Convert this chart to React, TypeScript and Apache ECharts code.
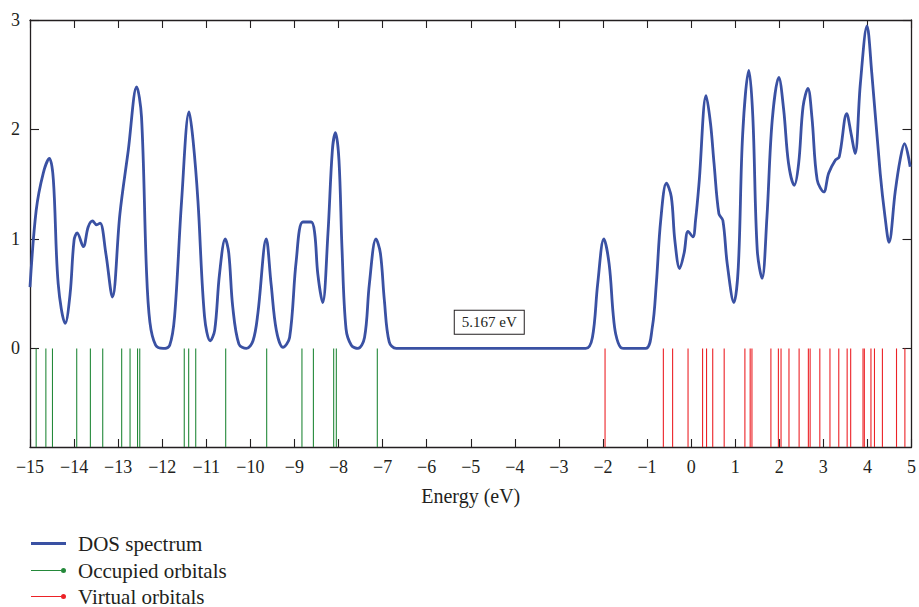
import React, { useEffect, useRef } from "react";
import * as echarts from "echarts";

const dosEnergy = [
  -15.0, -14.86, -14.7, -14.56, -14.47, -14.36, -14.2, -14.09, -14.0, -13.93, -13.79, -13.68, -13.58, -13.49, -13.41,
  -13.28, -13.13, -12.96, -12.77, -12.58, -12.47, -12.36, -12.28, -12.15, -11.98, -11.83, -11.72, -11.56, -11.39,
  -11.3, -11.19, -11.04, -10.91, -10.81, -10.7, -10.57, -10.49, -10.4, -10.26, -10.09, -9.94, -9.83, -9.64, -9.53,
  -9.41, -9.26, -9.11, -8.96, -8.81, -8.62, -8.54, -8.47, -8.36, -8.24, -8.14, -8.07, -7.99, -7.92, -7.83, -7.71,
  -7.56, -7.41, -7.3, -7.15, -7.05, -6.96, -6.85, -6.69, -2.39, -2.24, -2.12, -1.98, -1.86, -1.77, -1.71, -1.6,
  -1.48, -1.03, -0.88, -0.79, -0.69, -0.56, -0.45, -0.37, -0.26, -0.16, -0.07, 0.04, 0.1, 0.18, 0.34, 0.44, 0.52,
  0.63, 0.72, 0.82, 0.97, 1.07, 1.17, 1.31, 1.4, 1.5, 1.61, 1.72, 1.84, 1.99, 2.1, 2.21, 2.34, 2.44, 2.54, 2.65,
  2.74, 2.86, 3.01, 3.12, 3.27, 3.36, 3.53, 3.63, 3.72, 3.84, 3.99, 4.1, 4.29, 4.4, 4.49, 4.63, 4.74, 4.84, 4.97,
];
const dosValue = [
  0.56, 1.26, 1.6, 1.735, 1.54, 0.59, 0.23, 0.5, 0.99, 1.055, 0.93, 1.11, 1.165, 1.13, 1.145,
  0.87, 0.47, 1.23, 1.81, 2.39, 2.115, 0.74, 0.24, 0.03, 0.0, 0.03, 0.29, 1.35, 2.16,
  1.9, 1.35, 0.29, 0.07, 0.165, 0.68, 1.0, 0.87, 0.38, 0.04, 0.0, 0.07, 0.32, 1.0, 0.59,
  0.165, 0.01, 0.1, 0.8, 1.155, 1.155, 1.05, 0.68, 0.42, 1.05, 1.81, 1.97, 1.72, 0.9, 0.18, 0.03,
  0.0, 0.1, 0.59, 1.0, 0.87, 0.44, 0.06, 0.0, 0.0, 0.1, 0.59, 1.0, 0.77, 0.32, 0.13, 0.01,
  0.0, 0.0, 0.195, 0.59, 1.17, 1.51, 1.385, 0.99, 0.73, 0.87, 1.07, 1.02, 1.17, 1.51, 2.31, 2.055, 1.69,
  1.23, 1.17, 0.77, 0.42, 0.74, 1.96, 2.54, 2.115, 0.9, 0.64, 1.2, 2.085, 2.475, 2.18, 1.69, 1.49, 1.69, 2.21, 2.375,
  2.115, 1.54, 1.43, 1.6, 1.72, 1.75, 2.145, 1.96, 1.78, 2.42, 2.945, 2.51, 1.6, 1.2, 0.97, 1.43, 1.72, 1.87, 1.66,
];

const occupiedOrbitals = [
  -14.86, -14.64, -14.49, -13.94, -13.63, -13.35, -12.92, -12.73, -12.56, -12.51, -11.5, -11.4, -11.24, -10.56,
  -9.63, -8.83, -8.57, -8.11, -8.05, -7.12,
];
const virtualOrbitals = [
  -1.953, -0.63, -0.42, -0.07, 0.26, 0.35, 0.49, 0.75, 1.22, 1.34, 1.38, 1.81, 1.98, 2.04, 2.22, 2.45, 2.66, 2.7,
  2.92, 3.15, 3.35, 3.54, 3.62, 3.9, 3.93, 4.08, 4.16, 4.34, 4.66, 4.85,
];

const seriesNames = ["DOS spectrum", "Occupied orbitals", "Virtual orbitals"];
const yTicks = [0, 1, 2, 3];
const gapLabel = "5.167 eV";
const gapLabelAt = [-4.58, 0.24];

const X_MIN = -15;
const X_MAX = 5;
const Y_MIN = -0.9;
const Y_MAX = 3;

const AXIS = "#231f20";
const BLUE = "#3a51a3";
const GREEN = "#24893a";
const RED = "#ec2227";
const FONT = "'Liberation Serif', 'Times New Roman', serif";

const minus = (v: number) => String(v).replace("-", "\u2212");

export default function App() {
  const ref = useRef<HTMLDivElement>(null);
  useEffect(() => {
    if (!ref.current) return;
    const chart = echarts.init(ref.current, undefined, { renderer: "svg" });

    const stickSeries = (name: string, values: number[], color: string) => ({
      name,
      type: "custom",
      xAxisIndex: 0,
      yAxisIndex: 0,
      color,
      itemStyle: { color },
      data: values.map((v) => [v]),
      encode: { x: 0 },
      renderItem: (_p: any, api: any) => {
        const x = api.value(0);
        const a = api.coord([x, 0]);
        const b = api.coord([x, Y_MIN]);
        return {
          type: "line",
          shape: { x1: a[0], y1: a[1], x2: b[0], y2: b[1] },
          style: { stroke: color, lineWidth: 1.1 },
        };
      },
      z: 3,
    });

    const lineLegendIcon = "path://M0,0 L34,0 L34,3 L0,3 Z";
    const dotLegendIcon = "path://M0,2 L30,2 L30,3 L0,3 Z M32.5,0 A2.5,2.5 0 1 1 32.5,5 A2.5,2.5 0 1 1 32.5,0 Z";
    const legendIcons = [lineLegendIcon, dotLegendIcon, dotLegendIcon];
    const legendTops = [533, 560, 586];

    chart.setOption({
      animation: false,
      backgroundColor: "#ffffff",
      textStyle: { fontFamily: FONT },
      grid: { left: 30, right: 6, top: 20, bottom: 160, containLabel: false },
      legend: seriesNames.map((name, i) => ({
        orient: "vertical",
        left: 31,
        top: legendTops[i],
        padding: 0,
        itemWidth: 35,
        itemHeight: 10,
        textStyle: { fontFamily: FONT, fontSize: 21, color: AXIS, padding: [0, 0, 0, 7] },
        data: [{ name, icon: legendIcons[i] }],
      })),
      xAxis: [
        {
          type: "value",
          min: X_MIN,
          max: X_MAX,
          interval: 1,
          position: "bottom",
          name: "Energy (eV)",
          nameLocation: "middle",
          nameGap: 39,
          nameTextStyle: { fontFamily: FONT, fontSize: 20, color: AXIS },
          axisLine: { show: true, onZero: false, lineStyle: { color: AXIS, width: 1.3 } },
          axisTick: { show: true, inside: true, length: 8, lineStyle: { color: AXIS, width: 1.1 } },
          axisLabel: { formatter: minus, fontFamily: FONT, fontSize: 18, color: AXIS, margin: 11 },
          splitLine: { show: false },
        },
        {
          type: "value",
          min: X_MIN,
          max: X_MAX,
          interval: 1,
          position: "top",
          axisLine: { show: true, onZero: false, lineStyle: { color: AXIS, width: 1.3 } },
          axisTick: { show: true, inside: true, length: 8, lineStyle: { color: AXIS, width: 1.1 } },
          axisLabel: { show: false },
          splitLine: { show: false },
        },
      ],
      yAxis: [
        {
          type: "value",
          min: Y_MIN,
          max: Y_MAX,
          position: "left",
          axisLine: { show: true, onZero: false, lineStyle: { color: AXIS, width: 1.3 } },
          axisTick: { show: true, inside: true, length: 9, customValues: yTicks, lineStyle: { color: AXIS, width: 1.1 } },
          axisLabel: { customValues: yTicks, fontFamily: FONT, fontSize: 18, color: AXIS, margin: 10 },
          splitLine: { show: false },
        },
        {
          type: "value",
          min: Y_MIN,
          max: Y_MAX,
          position: "right",
          axisLine: { show: true, onZero: false, lineStyle: { color: AXIS, width: 1.3 } },
          axisTick: { show: true, inside: true, length: 9, customValues: yTicks, lineStyle: { color: AXIS, width: 1.1 } },
          axisLabel: { show: false, customValues: yTicks },
          splitLine: { show: false },
        },
      ],
      series: [
        {
          name: seriesNames[0],
          type: "line",
          color: BLUE,
          data: dosEnergy.map((e, i) => [e, dosValue[i]]),
          smooth: 0.35,
          showSymbol: false,
          symbol: "none",
          lineStyle: { color: BLUE, width: 2.8 },
          z: 4,
          markPoint: {
            symbol: "rect",
            symbolSize: 1,
            itemStyle: { color: "rgba(0,0,0,0)" },
            data: [{ coord: gapLabelAt, value: gapLabel }],
            label: {
              show: true,
              position: "inside",
              formatter: gapLabel,
              fontFamily: FONT,
              fontSize: 15,
              color: AXIS,
              backgroundColor: "#ffffff",
              borderColor: AXIS,
              borderWidth: 1,
              padding: [4, 7, 4, 7],
            },
          },
        },
        stickSeries(seriesNames[1], occupiedOrbitals, GREEN),
        stickSeries(seriesNames[2], virtualOrbitals, RED),
      ],
    });
    return () => chart.dispose();
  }, []);

  return <div ref={ref} style={{ width: 919, height: 607, position: "absolute", left: 0, top: 0 }} />;
}
